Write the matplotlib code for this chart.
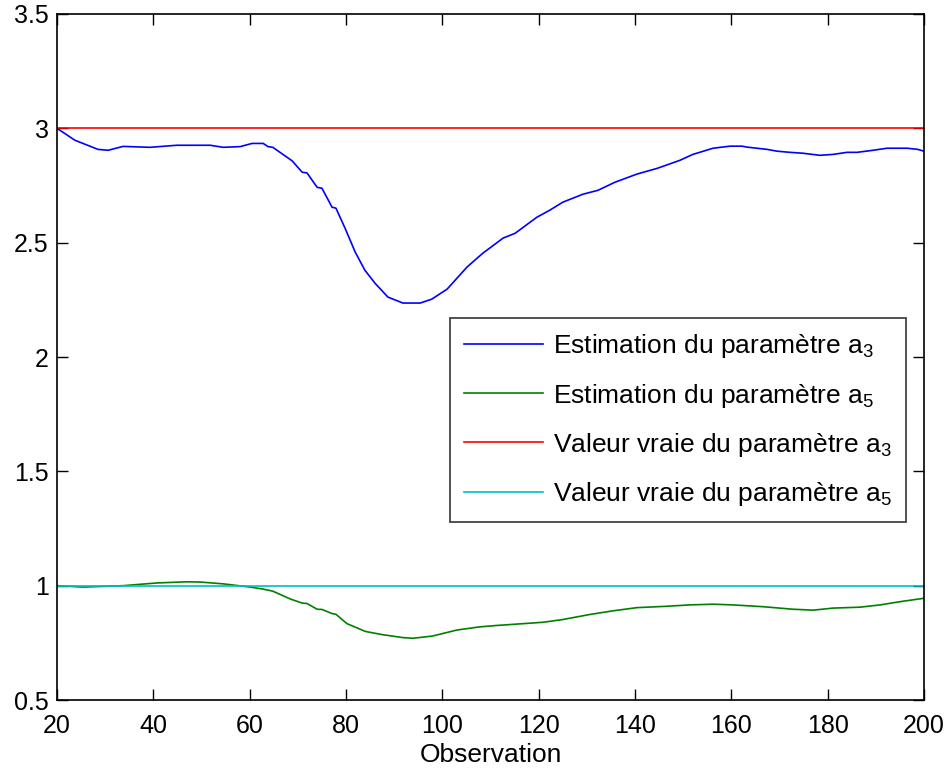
import numpy as np
import matplotlib
matplotlib.use('Agg')
import matplotlib.pyplot as plt

plt.rcParams['font.family'] = ['Liberation Sans', 'DejaVu Sans']
plt.rcParams['mathtext.fontset'] = 'custom'
plt.rcParams['mathtext.rm'] = 'Liberation Sans'
plt.rcParams['mathtext.it'] = 'Liberation Sans'

# estimation du parametre a3
x_a3 = [20, 23.7, 28.5, 30.6, 33.7, 39.3, 44.9, 51.8, 54.5, 58, 60.5, 62.8, 63.8, 64.8,
        68.8, 70.9, 71.9, 74, 75, 77.1, 77.9, 79.8, 81.9, 83.9, 86, 88.7, 91.8, 95.4,
        97.8, 101, 105.1, 108.4, 112.6, 115.1, 119.6, 122.3, 125, 129.2, 132.3, 135.8,
        140.4, 144.6, 149.3, 152, 156.2, 159.7, 162.2, 163.2, 167.4, 169.5, 172.2,
        174.9, 178.4, 181.1, 184, 186.1, 189.4, 192.3, 196.5, 198.7, 200]
y_a3 = [3.0, 2.948, 2.908, 2.904, 2.921, 2.917, 2.926, 2.926, 2.917, 2.92, 2.934, 2.934,
        2.92, 2.917, 2.858, 2.808, 2.805, 2.742, 2.738, 2.655, 2.651, 2.563, 2.459, 2.38,
        2.323, 2.262, 2.236, 2.236, 2.253, 2.297, 2.393, 2.454, 2.52, 2.541, 2.611, 2.642,
        2.677, 2.712, 2.729, 2.764, 2.8, 2.825, 2.86, 2.886, 2.913, 2.922, 2.922, 2.918,
        2.908, 2.9, 2.895, 2.891, 2.882, 2.886, 2.895, 2.895, 2.904, 2.913, 2.913, 2.908,
        2.9]

# estimation du parametre a5
x_a5 = [20, 25.4, 33.7, 40.8, 47, 49.7, 54.5, 60.1, 62.8, 64.8, 68.4, 70.9, 71.9, 74, 75,
        77.1, 77.9, 80.2, 84, 87.5, 91.8, 93.9, 98, 103, 107.8, 111.3, 120.9, 125, 130.6,
        135.4, 140.4, 146.6, 151.4, 156.2, 160.3, 166.6, 172.8, 177, 181.1, 186.7, 190.9,
        195, 200]
y_a5 = [1.0, 0.994, 1.0, 1.012, 1.017, 1.016, 1.008, 0.994, 0.985, 0.976, 0.942, 0.924,
        0.922, 0.897, 0.896, 0.878, 0.875, 0.834, 0.8, 0.786, 0.773, 0.77, 0.78, 0.806,
        0.82, 0.826, 0.84, 0.852, 0.874, 0.89, 0.904, 0.91, 0.916, 0.919, 0.916, 0.908,
        0.897, 0.893, 0.902, 0.906, 0.916, 0.93, 0.945]

a3_vrai = 3
a5_vrai = 1
obs = np.array([20, 200])

fig = plt.figure(figsize=(9.49, 7.69), dpi=100)
ax = fig.add_axes([0.0601, 0.0897, 0.9136, 0.8921])

ax.plot(x_a3, y_a3, color=(0, 0, 1), lw=1.2, label='Estimation du paramètre a$_3$')
ax.plot(x_a5, y_a5, color=(0, 0.5, 0), lw=1.2, label='Estimation du paramètre a$_5$')
ax.plot(obs, [a3_vrai, a3_vrai], color=(1, 0, 0), lw=1.2,
        label='Valeur vraie du paramètre a$_3$')
ax.plot(obs, [a5_vrai, a5_vrai], color=(0, 0.75, 0.75), lw=1.2,
        label='Valeur vraie du paramètre a$_5$')

ax.set_xlim(20, 200)
ax.set_ylim(0.5, 3.5)
ax.set_xticks(np.arange(20, 201, 20))
ax.set_yticks([0.5, 1, 1.5, 2, 2.5, 3, 3.5])
ax.set_yticklabels(['0.5', '1', '1.5', '2', '2.5', '3', '3.5'])
ax.tick_params(direction='in', length=8, width=1, labelsize=18,
               top=True, right=True)
ax.tick_params(axis='x', pad=10)
ax.tick_params(axis='y', pad=6)
for s in ax.spines.values():
    s.set_linewidth(1.2)
ax.set_xlabel('Observation', fontsize=19, labelpad=4)

leg = ax.legend(loc='upper left', bbox_to_anchor=(0.453, 0.557), fontsize=19,
                frameon=True, fancybox=False, edgecolor='black',
                handlelength=3.0, handletextpad=0.35, borderpad=0.55,
                labelspacing=0.8, borderaxespad=0)
leg.get_frame().set_linewidth(1.2)

fig.savefig('out.png', dpi=100)
